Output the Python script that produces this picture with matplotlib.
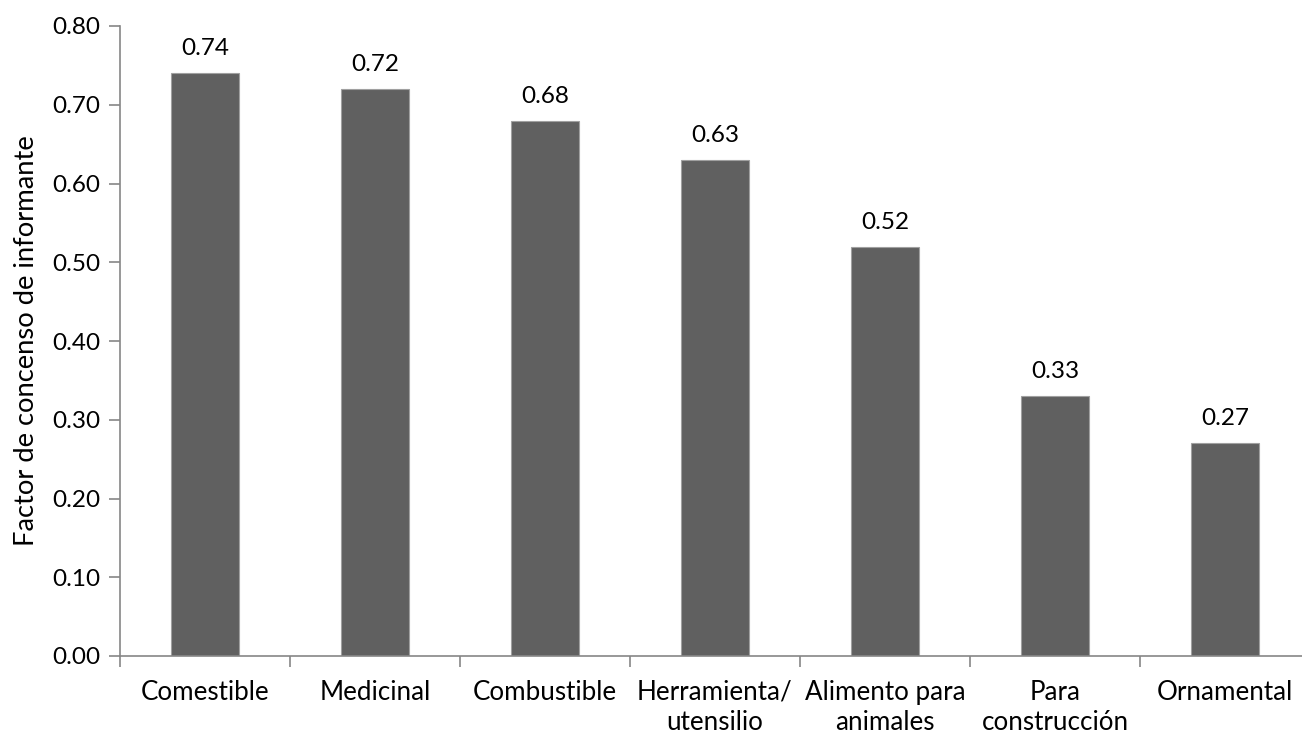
import matplotlib.pyplot as plt
import numpy as np

categories = ["Comestible", "Medicinal", "Combustible", "Herramienta/\nutensilio",
              "Alimento para\nanimales", "Para\nconstrucción", "Ornamental"]
fci = [0.74, 0.72, 0.68, 0.63, 0.52, 0.33, 0.27]
yticks = [0.0, 0.1, 0.2, 0.3, 0.4, 0.5, 0.6, 0.7, 0.8]

plt.rcParams["font.family"] = ["Lato", "DejaVu Sans"]

fig = plt.figure(figsize=(13.02, 7.36), dpi=100)
ax = fig.add_axes([120 / 1302, 80 / 736, 1190 / 1302, 630 / 736])

x = np.arange(len(categories))
bars = ax.bar(x, fci, width=0.4, color="#606060", edgecolor="#a0a0a0", linewidth=0.8)

for rect, v in zip(bars, fci):
    ax.annotate(f"{v:.2f}", (rect.get_x() + rect.get_width() / 2, v),
                xytext=(0, 10), textcoords="offset points",
                ha="center", va="bottom", fontsize=17.5)

ax.set_xlim(-0.5, len(categories) - 0.5)
ax.set_ylim(0, 0.8)
ax.set_yticks(yticks)
ax.set_yticklabels([f"{t:.2f}" for t in yticks], fontsize=17.5)

# categories sit between tick marks, ticks go on the boundaries
ax.set_xticks(x)
ax.set_xticklabels(categories, fontsize=18.7, linespacing=1.25)
ax.tick_params(axis="x", length=0, pad=17)
ax.set_xticks(np.arange(len(categories) + 1) - 0.5, minor=True)
ax.tick_params(axis="x", which="minor", length=8, color="#868686", width=1.2)
ax.tick_params(axis="y", length=8, color="#868686", width=1.2, pad=6)

ax.set_ylabel("Factor de concenso de informante", fontsize=19.7, labelpad=10)

for side in ("top", "right"):
    ax.spines[side].set_visible(False)
for side in ("left", "bottom"):
    ax.spines[side].set_color("#868686")
    ax.spines[side].set_linewidth(1.2)

fig.savefig("out.png", dpi=100)
